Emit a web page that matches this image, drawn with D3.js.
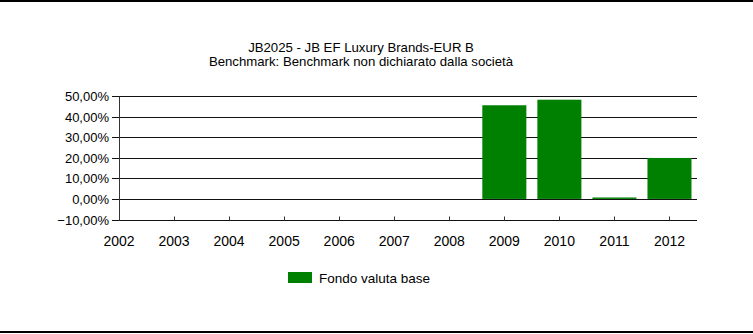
<!DOCTYPE html>
<html><head><meta charset="utf-8">
<script src="https://cdn.jsdelivr.net/npm/d3@7"></script>
<style>
html,body{margin:0;padding:0;background:#fff;}
svg{display:block;}
text{font-family:"Liberation Sans",Arial,sans-serif;fill:#000;}
</style></head>
<body>
<svg id="c" width="753" height="334"></svg>
<script>
const titleLines = ["JB2025 - JB EF Luxury Brands-EUR B", "Benchmark: Benchmark non dichiarato dalla società"];
const years = [2002,2003,2004,2005,2006,2007,2008,2009,2010,2011,2012];
const fundValues = [null,null,null,null,null,null,null,45.5,48.2,0.7,19.9];
const yTicks = [-10,0,10,20,30,40,50];
const seriesName = "Fondo valuta base";
const green = "#008000";

const svg = d3.select("#c");
// frame lines
svg.append("rect").attr("x",0).attr("y",0).attr("width",753).attr("height",2).attr("fill","#000");
svg.append("rect").attr("x",0).attr("y",331).attr("width",753).attr("height",2).attr("fill","#000");

const x = d3.scaleLinear().domain([2002, 2012.5]).range([119, 697]);
const y = d3.scaleLinear().domain([-10, 50]).range([219.5, 96]);
const step = x(2003) - x(2002);
const barW = step * 0.8;

// title
svg.append("g").selectAll("text").data(titleLines).join("text")
  .attr("x", 361).attr("y", (d,i)=> 51.5 + i*14.5)
  .attr("text-anchor","middle").attr("font-size", 13.2).text(d=>d);

// gridlines
const fmt = v => d3.format(".2f")(v).replace(".", ",") + "%";
svg.append("g").selectAll("line").data(yTicks).join("line")
  .attr("x1", 112).attr("x2", 697)
  .attr("y1", d=>Math.round(y(d))+0.5).attr("y2", d=>Math.round(y(d))+0.5)
  .attr("stroke","#111").attr("stroke-width",1.2);
svg.append("g").selectAll("text").data(yTicks).join("text")
  .attr("x", 109).attr("y", d=>Math.round(y(d))+0.5).attr("dy","0.35em")
  .attr("text-anchor","end").attr("font-size", 13).text(fmt);

// left axis line
svg.append("line").attr("x1",119.5).attr("x2",119.5)
  .attr("y1", Math.round(y(50))+0.5).attr("y2", Math.round(y(-10))+0.5)
  .attr("stroke","#333").attr("stroke-width",1);

// bars
const data = years.map((yr,i)=>({yr, v: fundValues[i]})).filter(d=>d.v!==null);
svg.append("g").selectAll("rect").data(data).join("rect")
  .attr("x", d=> x(d.yr) - barW/2)
  .attr("width", barW)
  .attr("y", d=> y(Math.max(0,d.v)))
  .attr("height", d=> Math.max(1, Math.abs(y(d.v)-y(0))))
  .attr("fill", green);

// x ticks (upward)
const yb = Math.round(y(-10))+0.5;
svg.append("g").selectAll("line").data(years).join("line")
  .attr("x1", d=>Math.round(x(d))+0.5).attr("x2", d=>Math.round(x(d))+0.5)
  .attr("y1", yb).attr("y2", yb-4)
  .attr("stroke","#333").attr("stroke-width",1);
svg.append("g").selectAll("text").data(years).join("text")
  .attr("x", d=>x(d)).attr("y", 246)
  .attr("text-anchor","middle").attr("font-size", 14).text(d=>d);

// legend
svg.append("rect").attr("x",288).attr("y",272).attr("width",24).attr("height",11).attr("fill",green);
svg.append("text").attr("x",319).attr("y",278).attr("dy","0.35em").attr("font-size",13.5).text(seriesName);
</script>
</body></html>
